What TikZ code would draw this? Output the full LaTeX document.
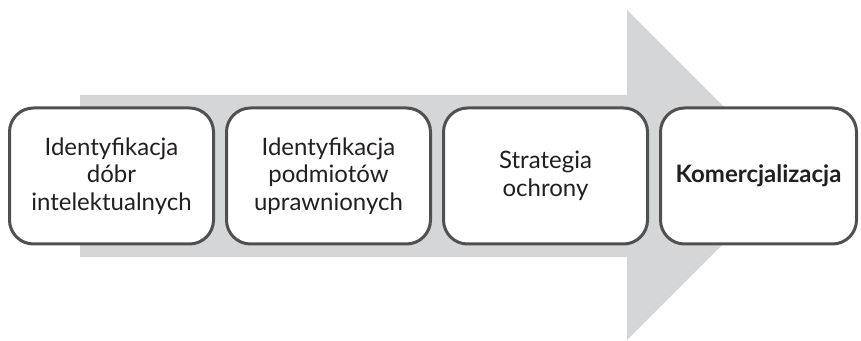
\documentclass[tikz,border=0pt]{standalone}
\usepackage{fontspec}
\setmainfont{Lato}
\usepackage{xcolor}
\usetikzlibrary{positioning}
\definecolor{arrowgray}{HTML}{D5D6D7}
\definecolor{boxline}{HTML}{505050}
\definecolor{txt}{HTML}{231F20}

\tikzset{
  stage/.style={draw=boxline, line width=3pt, fill=white, rounded corners=24pt,
    minimum width=204pt, minimum height=136pt, align=center, text=txt,
    font=\fontsize{24}{27.5}\selectfont}
}

\begin{document}
\begin{tikzpicture}[x=1pt,y=1pt]
\useasboundingbox (0,0) rectangle (861,340);
% big arrow in the background
\fill[arrowgray] (80,83) -- (80,245) -- (627,245) -- (627,330) -- (792,165)
  -- (627,0) -- (627,83) -- cycle;
% stages
\node[stage] (idgoods) at (111.5,164) {Identyfikacja\\dóbr\\intelektualnych};
\node[stage, right=10pt of idgoods] (idowners) {Identyfikacja\\podmiotów\\uprawnionych};
\node[stage, right=10pt of idowners] (protect) {Strategia\\ochrony};
\node[stage, right=10pt of protect, minimum width=196pt, font=\fontsize{24}{27.5}\selectfont\bfseries] (commerce) {Komercjalizacja};
\end{tikzpicture}
\end{document}
